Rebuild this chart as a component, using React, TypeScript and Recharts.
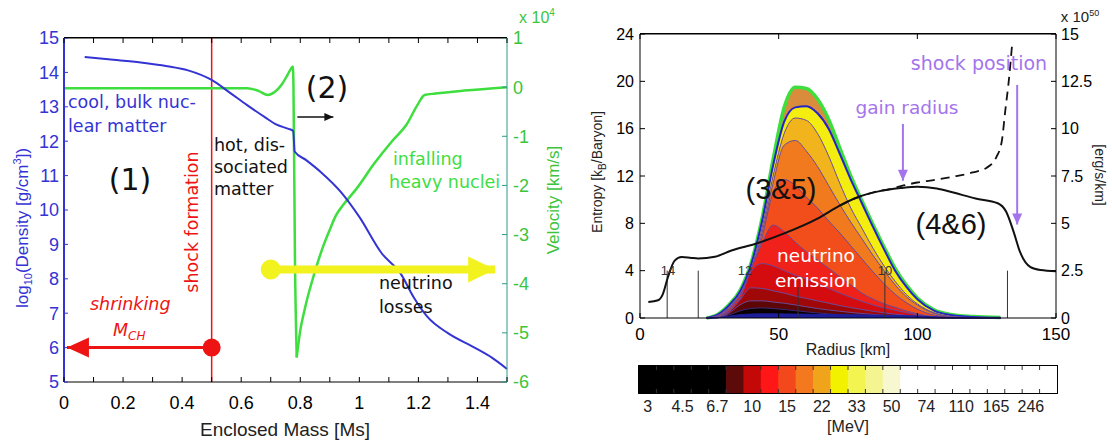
import React from 'react';
import { ComposedChart, Line, Area, Bar, Cell, XAxis, YAxis } from 'recharts';

// ---------- left panel: collapse profile ----------
const massTicks = [0, 0.1, 0.2, 0.3, 0.4, 0.5, 0.6, 0.7, 0.8, 0.9, 1.0, 1.1, 1.2, 1.3, 1.4, 1.5];
const densityTicks = [5, 6, 7, 8, 9, 10, 11, 12, 13, 14, 15];
const velocityTicks = [-6, -5, -4, -3, -2, -1, 0, 1];

// [enclosed mass, log10 density]
const densityProfile = [
  [0.07, 14.45], [0.15, 14.38], [0.26, 14.29], [0.35, 14.18], [0.42, 14.06], [0.5, 13.78],
  [0.56, 13.42], [0.62, 13.05], [0.68, 12.7], [0.72, 12.48], [0.76, 12.36], [0.776, 12.3],
  [0.781, 11.7], [0.82, 11.45], [0.87, 11.1], [0.94, 10.5], [1.0, 9.8], [1.075, 8.75],
  [1.14, 8.15], [1.185, 7.45], [1.23, 6.9], [1.3, 6.42], [1.39, 6.0], [1.45, 5.7], [1.5, 5.38],
];

// [enclosed mass, velocity / 1e4 km/s], inside and outside the shock
const velocityInner = [
  [0, -0.02], [0.3, -0.02], [0.62, -0.02], [0.66, -0.08], [0.69, -0.16], [0.713, -0.1],
  [0.738, 0.06], [0.757, 0.25], [0.77, 0.39], [0.775, 0.42], [0.777, 0.0], [0.782, -3.5],
  [0.788, -5.5],
];
const velocityOuter = [
  [0.788, -5.5], [0.8, -4.95], [0.812, -4.6], [0.823, -4.32], [0.84, -3.95], [0.86, -3.55],
  [0.88, -3.2], [0.9, -2.9], [0.92, -2.62], [0.945, -2.4], [0.99, -2.07], [1.051, -1.55],
  [1.112, -1.09], [1.16, -0.76], [1.197, -0.36], [1.221, -0.16], [1.258, -0.13], [1.355, -0.07],
  [1.5, 0],
];

// annotation arrows (mass, log10 density)
const shrinkArrow = [[0.5, 6], [0.01, 6]];
const lossArrow = [[0.7, 8.27], [1.46, 8.27]];
const shockArrow = [[0.79, 12.7], [0.912, 12.7]];

// ---------- right panel: post-bounce structure ----------
const radiusTicks = [0, 50, 100, 150];
const entropyTicks = [0, 4, 8, 12, 16, 20, 24];
const lumTicks = [0, 2.5, 5, 7.5, 10, 12.5, 15];

// [radius km, entropy]
const entropyProfile = [
  [3, 1.35], [6.5, 1.5], [8.2, 2.0], [10, 3.4], [12.5, 4.85], [15, 5.15], [18, 5.1], [21, 5.03],
  [27, 5.17], [33, 5.7], [42, 6.3], [52, 7.15], [64, 8.4], [72, 9.5], [78.5, 10.2], [86, 10.7],
  [94, 10.98], [100, 11.1], [107, 10.95], [113, 10.6], [121, 10.1], [129, 9.7], [132, 9.0],
  [134.7, 7.3], [137, 5.6], [140.8, 4.3], [144.4, 4.05], [150, 3.95],
];
const entropyLater = [
  [72, 9.5], [78.5, 10.2], [86, 10.72], [90, 10.9], [95, 11.2], [100, 11.45], [107, 11.7],
  [113, 11.95], [120, 12.3], [125, 12.7], [128.5, 13.6], [130.5, 15.0], [131.7, 17.5],
  [133, 20.1], [134.2, 23.2],
];

// density markers along the radius axis: [radius, height]
const densityMarks = [[9.8, 4], [21, 4], [57, 2.6], [88.3, 3.9], [132.5, 4]];
const gainArrow = [[94.8, 16.4], [94.8, 11.6]];
const shockPosArrow = [[136, 19.7], [136, 7.9]];

// neutrino emission spectrum, cumulative band tops on the radius grid
const radii = [24, 28, 32, 36, 40, 44, 48, 52, 56, 60, 64, 68, 72, 76, 80, 84, 88, 92, 96, 100, 106, 112, 120, 130];
const bandTotal = [0, 0.3, 1.1, 2.3, 4.6, 8.4, 13.4, 17.8, 19.5, 19.4, 18.5, 16.8, 14.4, 12.0, 9.9, 7.9, 6.0, 4.2, 2.8, 1.7, 0.7, 0.3, 0.12, 0.04];
const band50 = [0, 0.28, 1.05, 2.2, 4.45, 8.15, 12.9, 16.6, 17.8, 17.9, 17.3, 16.0, 13.9, 11.7, 9.7, 7.7, 5.8, 4.0, 2.65, 1.58, 0.62, 0.25, 0.09, 0.02];
const band33 = [0, 0.2, 0.9, 2.0, 4.1, 7.6, 12.0, 15.6, 16.9, 16.7, 15.6, 13.7, 11.4, 9.3, 7.6, 5.9, 4.4, 3.1, 2.0, 1.2, 0.45, 0.15, 0.03, 0];
const band22 = [0, 0.2, 0.85, 1.9, 3.9, 7.2, 11.4, 14.6, 15.0, 14.1, 12.8, 11.2, 9.6, 8.1, 6.7, 5.3, 4.0, 2.8, 1.8, 1.1, 0.4, 0.12, 0.02, 0];
const band15 = [0, 0.15, 0.8, 1.8, 3.7, 6.8, 10.6, 11.7, 11.2, 10.2, 9.3, 8.2, 7.2, 6.1, 5.0, 3.9, 2.9, 2.0, 1.3, 0.75, 0.25, 0.08, 0, 0];
const band10 = [0, 0.1, 0.7, 1.9, 4.1, 6.3, 7.85, 7.3, 6.4, 5.6, 4.9, 4.2, 3.5, 2.8, 2.1, 1.6, 1.2, 0.9, 0.6, 0.35, 0.1, 0.02, 0, 0];
const band8 = [0, 0.08, 0.6, 1.6, 3.9, 4.6, 4.4, 4.0, 3.6, 3.3, 2.9, 2.5, 2.1, 1.75, 1.4, 1.1, 0.85, 0.65, 0.45, 0.28, 0.1, 0.02, 0, 0];
const band7 = [0, 0.05, 0.5, 1.5, 2.55, 2.5, 2.3, 2.1, 1.85, 1.65, 1.45, 1.25, 1.05, 0.88, 0.72, 0.57, 0.44, 0.32, 0.22, 0.14, 0.05, 0, 0, 0];
const band6 = [0, 0.03, 0.4, 1.1, 1.45, 1.45, 1.35, 1.25, 1.1, 0.95, 0.8, 0.68, 0.57, 0.47, 0.38, 0.3, 0.22, 0.15, 0.1, 0.06, 0, 0, 0, 0];
const band4 = [0, 0.02, 0.25, 0.6, 0.8, 0.85, 0.8, 0.72, 0.62, 0.52, 0.43, 0.35, 0.28, 0.22, 0.17, 0.12, 0.08, 0.05, 0.03, 0.02, 0, 0, 0, 0];
const band3 = [0, 0.02, 0.15, 0.28, 0.33, 0.35, 0.35, 0.34, 0.33, 0.32, 0.3, 0.29, 0.28, 0.27, 0.26, 0.25, 0.24, 0.22, 0.2, 0.17, 0.1, 0.04, 0, 0];

// ---------- colour bar ----------
const energyLabels = ['3', '4.5', '6.7', '10', '15', '22', '33', '50', '74', '110', '165', '246'];
const energyColors = [
  '#000000', '#000000', '#000000', '#000000', '#000000', '#5c0a0a', '#c40808', '#ff1616',
  '#f2481c', '#f4781e', '#f0a41c', '#f2f200', '#f4f450', '#f4f490', '#f8f8d0', '#ffffff',
  '#ffffff', '#ffffff', '#ffffff', '#ffffff', '#ffffff', '#ffffff', '#ffffff', '#ffffff',
];

const TICK_FONT = '"Liberation Sans", Arial, sans-serif';
const NOTE_FONT = '"DejaVu Sans", sans-serif';
const BLUE = '#3434d4';
const GREEN = '#3ede3e';
const RED = '#ee1414';
const PURPLE = '#a474ec';

const pts = (pairs: number[][]) => pairs.map(([x, y]) => ({ x, y }));

type TickOpts = {
  side: 'bottom' | 'top' | 'left' | 'right';
  len: number;
  color?: string;
  text?: string;
  size?: number;
  gap?: number;
  label?: (v: number) => string | null;
};

function makeTick({ side, len, color = '#000', text = '#000', size = 16, gap = 4, label }: TickOpts) {
  return (props: any) => {
    const { x, y, payload } = props;
    const v = payload.value;
    const s = label ? label(v) : null;
    const font = { fontFamily: TICK_FONT, fontSize: size, fill: text };
    if (side === 'bottom') {
      return (
        <g>
          <line x1={x} x2={x} y1={y} y2={y - len} stroke={color} />
          {s && <text x={x} y={y + gap} dy="0.8em" textAnchor="middle" {...font}>{s}</text>}
        </g>
      );
    }
    if (side === 'top') {
      return <g><line x1={x} x2={x} y1={y} y2={y + len} stroke={color} /></g>;
    }
    if (side === 'left') {
      return (
        <g>
          <line x1={x} x2={x + len} y1={y} y2={y} stroke={color} />
          {s && <text x={x - gap} y={y} dy="0.36em" textAnchor="end" {...font}>{s}</text>}
        </g>
      );
    }
    return (
      <g>
        <line x1={x} x2={x - len} y1={y} y2={y} stroke={color} />
        {s && <text x={x + gap} y={y} dy="0.36em" textAnchor="start" {...font}>{s}</text>}
      </g>
    );
  };
}

// endpoint decorations for annotation arrows
function arrowEnds(dir: 'left' | 'right' | 'down', head: number, half: number, color: string, startRadius = 0) {
  return (props: any) => {
    const { cx, cy, index } = props;
    if (index === 0) {
      return startRadius ? <circle key="s" cx={cx} cy={cy} r={startRadius} fill={color} /> : <g key="s" />;
    }
    let p = '';
    if (dir === 'left') p = `${cx},${cy} ${cx + head},${cy - half} ${cx + head},${cy + half}`;
    if (dir === 'right') p = `${cx},${cy} ${cx - head},${cy - half} ${cx - head},${cy + half}`;
    if (dir === 'down') p = `${cx},${cy} ${cx - half},${cy - head} ${cx + half},${cy - head}`;
    return <polygon key="e" points={p} fill={color} />;
  };
}

function Note({ x, y, children, size = 18, color = '#111', rotate = 0, font = NOTE_FONT, anchor = 'middle', style }: any) {
  const tx = anchor === 'start' ? '0' : '-50%';
  return (
    <div
      style={{
        position: 'absolute', left: x, top: y, transform: `translate(${tx},-50%) rotate(${rotate}deg)`,
        fontSize: size, color, fontFamily: font, whiteSpace: 'nowrap', lineHeight: 1, ...style,
      }}
    >
      {children}
    </div>
  );
}

function CollapsePanel() {
  const fmtMass = (v: number) => (Math.round(v * 10) % 2 === 0 && v < 1.45 ? String(Math.round(v * 10) / 10) : null);
  return (
    <ComposedChart width={560} height={441} margin={{ top: 37, right: 0, bottom: 0, left: 0 }}>
      <XAxis xAxisId="m" dataKey="x" type="number" domain={[0, 1.5]} ticks={massTicks} interval={0}
        height={59} axisLine={{ stroke: '#000' }} tickLine={false} tickSize={0} tickMargin={0}
        tick={makeTick({ side: 'bottom', len: 5, size: 18, gap: 13, label: fmtMass })} />
      <XAxis xAxisId="top" dataKey="x" type="number" orientation="top" domain={[0, 1.5]} ticks={massTicks} interval={0}
        height={1} axisLine={{ stroke: '#000' }} tickLine={false} tickSize={0} tickMargin={0}
        tick={makeTick({ side: 'top', len: 5 })} />
      <YAxis yAxisId="d" type="number" domain={[5, 15]} ticks={densityTicks} interval={0} width={64}
        axisLine={{ stroke: BLUE, strokeWidth: 2 }} tickLine={false} tickSize={0} tickMargin={0}
        tick={makeTick({ side: 'left', len: 4, color: BLUE, text: BLUE, size: 18, gap: 5, label: (v) => String(v) })} />
      <YAxis yAxisId="v" type="number" orientation="right" domain={[-6, 1]} ticks={velocityTicks} interval={0} width={53}
        axisLine={{ stroke: '#2e9a86' }} tickLine={false} tickSize={0} tickMargin={0}
        tick={makeTick({ side: 'right', len: 5, color: '#2e9a86', text: '#3cc43c', size: 18, gap: 6, label: (v) => String(v) })} />

      {/* invisible copy that anchors the top frame axis */}
      <Line xAxisId="top" yAxisId="d" data={pts(densityProfile)} dataKey="y" stroke="none"
        dot={false} activeDot={false} isAnimationActive={false} />
      <Line xAxisId="m" yAxisId="d" data={pts([[0.5, 5], [0.5, 15]])} dataKey="y" stroke={RED} strokeWidth={1.5}
        dot={false} activeDot={false} isAnimationActive={false} />
      <Line xAxisId="m" yAxisId="v" data={pts(velocityInner)} dataKey="y" type="monotone" stroke={GREEN} strokeWidth={2.5}
        dot={false} activeDot={false} isAnimationActive={false} />
      <Line xAxisId="m" yAxisId="v" data={pts(velocityOuter)} dataKey="y" type="monotone" stroke={GREEN} strokeWidth={2.5}
        dot={false} activeDot={false} isAnimationActive={false} />
      <Line xAxisId="m" yAxisId="d" data={pts(densityProfile)} dataKey="y" type="monotone" stroke={BLUE} strokeWidth={2}
        dot={false} activeDot={false} isAnimationActive={false} />
      <Line xAxisId="m" yAxisId="d" data={pts(shrinkArrow)} dataKey="y" stroke={RED} strokeWidth={3}
        dot={arrowEnds('left', 22, 10, RED, 9)} activeDot={false} isAnimationActive={false} />
      <Line xAxisId="m" yAxisId="d" data={pts(lossArrow)} dataKey="y" stroke="#f2f21e" strokeWidth={8}
        dot={arrowEnds('right', 27, 13, '#f2f21e', 10)} activeDot={false} isAnimationActive={false} />
      <Line xAxisId="m" yAxisId="d" data={pts(shockArrow)} dataKey="y" stroke="#111" strokeWidth={1.5}
        dot={arrowEnds('right', 9, 4, '#111')} activeDot={false} isAnimationActive={false} />
    </ComposedChart>
  );
}

function StructurePanel() {
  const rows = radii.map((x, i) => ({
    x, total: bandTotal[i], e50: band50[i], e33: band33[i], e22: band22[i], e15: band15[i],
    e10: band10[i], e8: band8[i], e7: band7[i], e6: band6[i], e4: band4[i], e3: band3[i],
  }));
  const bands = [
    { key: 'total', fill: '#d98c3c', stroke: GREEN, w: 3.5 },
    { key: 'e50', fill: '#f4ee10', stroke: '#2424c8', w: 2 },
    { key: 'e33', fill: '#f2b41c', stroke: '#6a4a9a', w: 1 },
    { key: 'e22', fill: '#f27a1e', stroke: '#6a4a9a', w: 1 },
    { key: 'e15', fill: '#f24e1c', stroke: '#6a4a9a', w: 1 },
    { key: 'e10', fill: '#f0201a', stroke: '#6a4a9a', w: 1 },
    { key: 'e8', fill: '#d40c10', stroke: '#6a4a9a', w: 1 },
    { key: 'e7', fill: '#a00808', stroke: '#6a4a9a', w: 1 },
    { key: 'e6', fill: '#5c0606', stroke: '#6a4a9a', w: 1 },
    { key: 'e4', fill: '#0a0000', stroke: '#3a2a7a', w: 1 },
    { key: 'e3', fill: '#1e1e9a', stroke: '#1e1e9a', w: 1 },
  ];
  return (
    <ComposedChart width={552} height={441} data={rows} margin={{ top: 33, right: 0, bottom: 0, left: 0 }}>
      <XAxis dataKey="x" type="number" domain={[0, 150]} ticks={radiusTicks} interval={0}
        height={123} axisLine={{ stroke: '#000' }} tickLine={false} tickSize={0} tickMargin={0}
        tick={makeTick({ side: 'bottom', len: 5, size: 17, gap: 8, label: (v) => String(v) })} />
      <XAxis xAxisId="top" dataKey="x" type="number" orientation="top" domain={[0, 150]} ticks={radiusTicks} interval={0}
        height={1} axisLine={{ stroke: '#000' }} tickLine={false} tickSize={0} tickMargin={0}
        tick={makeTick({ side: 'top', len: 5 })} />
      <YAxis yAxisId="s" type="number" domain={[0, 24]} ticks={entropyTicks} interval={0} width={80}
        axisLine={{ stroke: '#000' }} tickLine={false} tickSize={0} tickMargin={0}
        tick={makeTick({ side: 'left', len: 5, size: 16, gap: 6, label: (v) => String(v) })} />
      <YAxis yAxisId="l" type="number" orientation="right" domain={[0, 15]} ticks={lumTicks} interval={0} width={56}
        axisLine={{ stroke: '#000' }} tickLine={false} tickSize={0} tickMargin={0}
        tick={makeTick({ side: 'right', len: 5, size: 16, gap: 5, label: (v) => String(v) })} />

      {/* invisible copy that anchors the top frame and the right-hand axis */}
      <Line xAxisId="top" yAxisId="l" data={pts(entropyProfile)} dataKey="y" stroke="none"
        dot={false} activeDot={false} isAnimationActive={false} />
      {bands.map((b) => (
        <Area key={b.key} yAxisId="s" dataKey={b.key} type="monotone" fill={b.fill} fillOpacity={1}
          stroke={b.stroke} strokeWidth={b.w} dot={false} activeDot={false} isAnimationActive={false} />
      ))}
      {densityMarks.map(([r, h]) => (
        <Line key={r} yAxisId="s" data={pts([[r, 0], [r, h]])} dataKey="y" stroke="#333" strokeWidth={1}
          dot={false} activeDot={false} isAnimationActive={false} />
      ))}
      <Line yAxisId="s" data={pts(entropyLater)} dataKey="y" type="monotone" stroke="#111" strokeWidth={1.8}
        strokeDasharray="9 6" dot={false} activeDot={false} isAnimationActive={false} />
      <Line yAxisId="s" data={pts(entropyProfile)} dataKey="y" type="monotone" stroke="#111" strokeWidth={2}
        dot={false} activeDot={false} isAnimationActive={false} />
      <Line yAxisId="s" data={pts(gainArrow)} dataKey="y" stroke={PURPLE} strokeWidth={2}
        dot={arrowEnds('down', 11, 5, PURPLE)} activeDot={false} isAnimationActive={false} />
      <Line yAxisId="s" data={pts(shockPosArrow)} dataKey="y" stroke={PURPLE} strokeWidth={2}
        dot={arrowEnds('down', 11, 5, PURPLE)} activeDot={false} isAnimationActive={false} />
    </ComposedChart>
  );
}

const BAR_W = 418;

function EnergyBar() {
  const cells = energyColors.map((c, i) => ({ x: i + 0.5, v: 1 }));
  const cellPx = BAR_W / energyColors.length;
  const cbTicks = [
    ...energyLabels.map((_, k) => 2 * k + 0.5),
    ...energyColors.slice(1).map((_, i) => i + 1),
  ].sort((a, b) => a - b);
  const barTick = (props: any) => {
    const { x, y, payload } = props;
    const v = payload.value;
    if (Number.isInteger(v)) {
      return (
        <g>
          <line x1={x} x2={x} y1={y} y2={y - 4} stroke="#333" />
          <line x1={x} x2={x} y1={y - 27} y2={y - 23} stroke="#333" />
        </g>
      );
    }
    const s = energyLabels[(v - 0.5) / 2];
    return <text x={x} y={y + 6} dy="0.8em" textAnchor="middle" fontFamily={TICK_FONT} fontSize={16} fill="#222">{s}</text>;
  };
  // each cell spans its full colour interval (centred on the bar's position)
  const cellShape = (p: any) => {
    const cx = p.x + p.width / 2;
    return <rect x={cx - cellPx / 2 - 0.4} y={p.y} width={cellPx + 0.8} height={p.height} fill={p.fill} />;
  };
  return (
    <ComposedChart width={BAR_W + 2} height={70} data={cells} margin={{ top: 0, right: 1, bottom: 0, left: 1 }}>
      <XAxis dataKey="x" type="number" domain={[0, energyColors.length]} ticks={cbTicks} interval={0}
        height={43} axisLine={false} tickLine={false} tickSize={0} tickMargin={0} tick={barTick} />
      <YAxis type="number" domain={[0, 1]} hide />
      <Bar dataKey="v" barSize={16} shape={cellShape} isAnimationActive={false}>
        {cells.map((c, i) => <Cell key={i} fill={energyColors[i]} />)}
      </Bar>
    </ComposedChart>
  );
}

const frameTop = (left: number, top: number, width: number) => (
  <div style={{ position: 'absolute', left, top, width, height: 0, borderTop: '1px solid #000', pointerEvents: 'none' }} />
);

export default function App() {
  return (
    <div style={{ position: 'absolute', left: 0, top: 0, width: 1112, height: 441, background: '#fff', overflow: 'hidden' }}>
      <div style={{ position: 'absolute', left: 0, top: 0 }}><CollapsePanel /></div>
      <div style={{ position: 'absolute', left: 560, top: 0 }}><StructurePanel /></div>
      <div style={{ position: 'absolute', left: 638, top: 366 }}><EnergyBar /></div>
      <div style={{ position: 'absolute', left: 638, top: 365, width: BAR_W, height: 27, border: '1px solid #000', pointerEvents: 'none' }} />
      {frameTop(64, 37, 443)}
      {frameTop(640, 33, 416)}

      {/* left panel labels */}
      <Note x={23} y={228} rotate={-90} size={17} color={BLUE} font={TICK_FONT}>
        log<sub style={{ fontSize: 11 }}>10</sub>(Density [g/cm<sup style={{ fontSize: 11 }}>3</sup>])
      </Note>
      <Note x={553} y={200} rotate={-90} size={17} color="#3cc43c" font={TICK_FONT}>Velocity [km/s]</Note>
      <Note x={537} y={17} size={16} color="#3cc43c" font={TICK_FONT}>x 10<sup style={{ fontSize: 10 }}>4</sup></Note>
      <Note x={285} y={429} size={19} color="#222" font={TICK_FONT}>Enclosed Mass [Ms]</Note>

      <Note x={68} y={103} anchor="start" size={17.5} color={BLUE}>cool, bulk nuc-</Note>
      <Note x={68} y={127} anchor="start" size={17.5} color={BLUE}>lear matter</Note>
      <Note x={130} y={180} size={30} color="#111">(1)</Note>
      <Note x={193} y={222} rotate={-90} size={17.5} color={RED}>shock formation</Note>
      <Note x={214} y={146} anchor="start" size={17.5}>hot, dis-</Note>
      <Note x={214} y={168} anchor="start" size={17.5}>sociated</Note>
      <Note x={214} y={190} anchor="start" size={17.5}>matter</Note>
      <Note x={327} y={88} size={30} color="#111">(2)</Note>
      <Note x={393} y={160} anchor="start" size={17.5} color={GREEN}>infalling</Note>
      <Note x={389} y={183} anchor="start" size={17.5} color={GREEN}>heavy nuclei</Note>
      <Note x={379} y={284} anchor="start" size={17.5}>neutrino</Note>
      <Note x={379} y={308} anchor="start" size={17.5}>losses</Note>
      <Note x={90} y={305} anchor="start" size={17.5} color={RED} style={{ fontStyle: 'italic' }}>shrinking</Note>
      <Note x={113} y={332} anchor="start" size={17.5} color={RED} style={{ fontStyle: 'italic' }}>
        M<sub style={{ fontSize: 12 }}>CH</sub>
      </Note>

      {/* right panel labels */}
      <Note x={599} y={172} rotate={-90} size={14} color="#222" font={TICK_FONT}>
        Entropy [k<sub style={{ fontSize: 10 }}>B</sub>/Baryon]
      </Note>
      <Note x={1100} y={175} rotate={90} size={14} color="#222" font={TICK_FONT}>[erg/s/km]</Note>
      <Note x={1080} y={16} size={15} color="#222" font={TICK_FONT}>x 10<sup style={{ fontSize: 9 }}>50</sup></Note>
      <Note x={848} y={350} size={16} color="#222" font={TICK_FONT}>Radius [km]</Note>
      <Note x={848} y={427} size={16} color="#222" font={TICK_FONT}>[MeV]</Note>

      <Note x={979} y={63} size={19} color={PURPLE}>shock position</Note>
      <Note x={907} y={108} size={18.5} color={PURPLE}>gain radius</Note>
      <Note x={781} y={189} size={29} color="#111" font={TICK_FONT}>(3&amp;5)</Note>
      <Note x={951} y={224} size={29} color="#111" font={TICK_FONT}>(4&amp;6)</Note>
      <Note x={816} y={256} size={18.5} color="#fff">neutrino</Note>
      <Note x={816} y={281} size={18.5} color="#fff">emission</Note>
      <Note x={668} y={270} size={13} color="#333" font={TICK_FONT}>14</Note>
      <Note x={745} y={270} size={13} color="#333" font={TICK_FONT}>12</Note>
      <Note x={885} y={270} size={13} color="#333" font={TICK_FONT}>10</Note>
    </div>
  );
}
